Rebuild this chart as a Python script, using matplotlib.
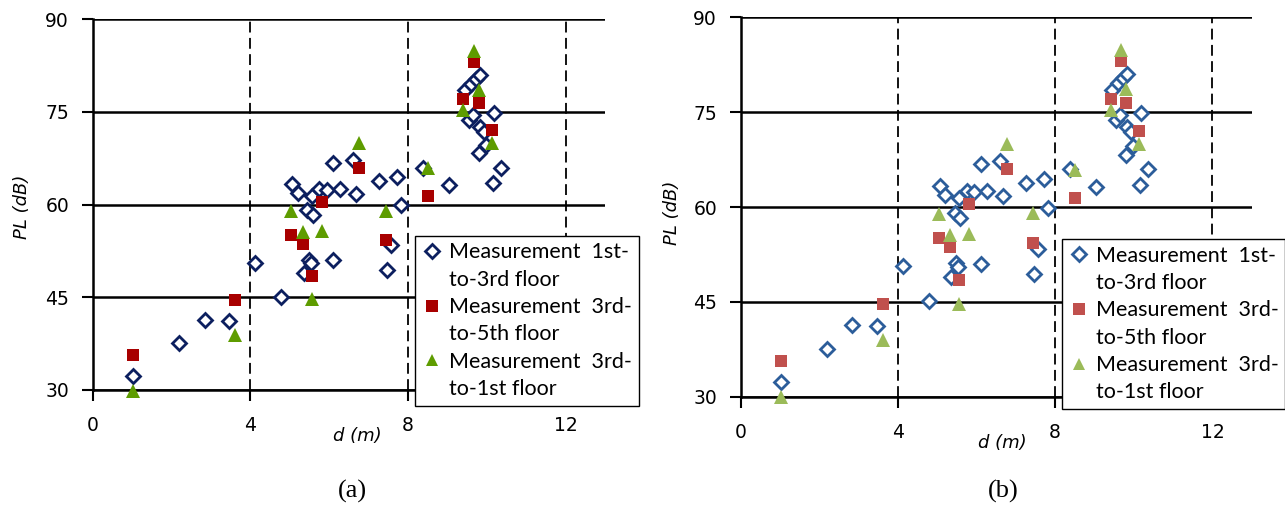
import matplotlib
matplotlib.use('Agg')
import matplotlib.pyplot as plt
from matplotlib.lines import Line2D

plt.rcParams['font.family'] = ['DejaVu Sans']

# 测量数据：距离 d (m) 与路径损耗 PL (dB)
d_13 = [1.03, 2.20, 2.84, 3.47, 4.13, 4.78, 5.07, 5.21, 5.44, 5.58, 5.56, 5.75, 5.94, 6.11,
        6.27, 6.60, 6.68, 7.26, 7.72, 7.83, 7.57, 7.47, 6.11, 5.48, 5.53, 5.36, 8.39, 9.03,
        9.45, 9.60, 9.72, 9.82, 9.56, 9.65, 9.83, 9.92, 9.81, 9.97, 10.19, 10.37, 10.15]
pl_13 = [32.3, 37.6, 41.4, 41.2, 50.6, 45.1, 63.3, 61.9, 59.1, 58.3, 61.4, 62.6, 62.4, 66.8,
         62.5, 67.3, 61.8, 63.8, 64.5, 59.9, 53.4, 49.4, 51.0, 51.1, 50.5, 48.9, 66.0, 63.1,
         78.5, 79.6, 80.4, 81.0, 73.7, 74.5, 72.6, 71.8, 68.3, 69.7, 74.9, 66.0, 63.5]

d_35 = [1.03, 3.62, 5.04, 5.33, 5.56, 5.82, 6.77, 7.44, 8.50, 9.41, 9.80, 9.68, 10.13]
pl_35 = [35.7, 44.6, 55.1, 53.6, 48.5, 60.4, 66.0, 54.3, 61.4, 77.1, 76.4, 83.1, 72.1]

d_31 = [1.03, 3.62, 5.04, 5.33, 5.82, 5.56, 6.77, 7.44, 8.50, 9.41, 9.80, 9.68, 10.13]
pl_31 = [29.9, 38.9, 58.9, 55.5, 55.8, 44.7, 69.9, 59.0, 65.9, 75.3, 78.6, 84.9, 70.0]

labels = [('Measurement  1st-', 'to-3rd floor'),
          ('Measurement  3rd-', 'to-5th floor'),
          ('Measurement  3rd-', 'to-1st floor')]
x_ticks = [0, 4, 8, 12]
y_ticks = [30, 45, 60, 75, 90]

# (a) 深色  (b) 浅色
styles = {
    'a': ('#0c1f5f', '#a80000', '#5e9c00'),
    'b': ('#2c5d9a', '#c0504d', '#9bbb59'),
}

fig = plt.figure(figsize=(12.85, 5.08), dpi=100)
ax_a = fig.add_axes([0.0721, 0.2323, 0.3987, 0.7297])
ax_b = fig.add_axes([0.5764, 0.2191, 0.3977, 0.7468])

panels = [
    (ax_a, 'a', (0.323, 0.5354), (0.516, -0.124), (-0.138, 0.494), 352.5),
    (ax_b, 'b', (0.8262, 0.5289), (0.512, -0.122), (-0.134, 0.484), 1003),
]

for ax, key, leg_xy, xl_xy, yl_xy, cap_x in panels:
    c1, c2, c3 = styles[key]
    ax.plot(d_13, pl_13, 'D', ms=7.2, mfc='white', mec=c1, mew=2.0,
            linestyle='none', clip_on=False, zorder=3)
    ax.plot(d_35, pl_35, 's', ms=9.3, color=c2, mew=0, linestyle='none',
            clip_on=False, zorder=4)
    ax.plot(d_31, pl_31, '^', ms=9.5, color=c3, mew=0, linestyle='none',
            clip_on=False, zorder=5)

    ax.set_xlim(0, 13)
    ax.set_ylim(30, 90)
    ax.set_xticks(x_ticks)
    ax.set_yticks(y_ticks)
    ax.tick_params(axis='both', direction='out', length=8, width=1.5,
                   labelsize=13.5, colors='black')
    ax.tick_params(axis='y', pad=9)
    ax.tick_params(axis='x', pad=11)

    ax.grid(axis='y', color='black', linestyle='-', linewidth=1.8)
    ax.grid(axis='x', color='black', linestyle=(0, (6, 3)), linewidth=1.3)
    ax.set_axisbelow(True)

    ax.spines['right'].set_visible(False)
    ax.spines['top'].set_visible(False)
    ax.spines['left'].set_linewidth(1.8)
    ax.spines['bottom'].set_linewidth(1.8)

    ax.set_xlabel('d (m)', fontstyle='italic', fontsize=13)
    ax.xaxis.set_label_coords(*xl_xy)
    ax.xaxis.label.set_va('center')
    ax.set_ylabel('PL (dB)', fontstyle='italic', fontsize=13)
    ax.yaxis.set_label_coords(*yl_xy)
    ax.yaxis.label.set_va('center')

    # 图例：每项两行，标记与第一行对齐
    handles = []
    texts = []
    for (l1, l2), mk, col in zip(labels, ['D', 's', '^'], [c1, c2, c3]):
        if mk == 'D':
            h = Line2D([], [], marker='D', ms=7.2, mfc='white', mec=col, mew=2.0, linestyle='none')
        else:
            h = Line2D([], [], marker=mk, ms=9.3, color=col, mew=0, linestyle='none')
        handles += [h, Line2D([], [], linestyle='none')]
        texts += [l1, l2]
    leg = ax.legend(handles, texts, loc='upper left', bbox_to_anchor=leg_xy,
                    bbox_transform=fig.transFigure, frameon=True, fancybox=False,
                    prop={'family': 'Lato', 'size': 15.5}, handlelength=1.0,
                    handletextpad=0.3, labelspacing=0.34, borderpad=0.3,
                    borderaxespad=0, framealpha=1)
    leg.get_frame().set_edgecolor('black')
    leg.get_frame().set_linewidth(1.0)
    leg.set_zorder(10)

    fig.text(cap_x / 1285, 1 - 491.5 / 508, '(%s)' % key, ha='center', va='center',
             fontsize=19, family='Liberation Serif')

fig.savefig('out.png', dpi=100)
